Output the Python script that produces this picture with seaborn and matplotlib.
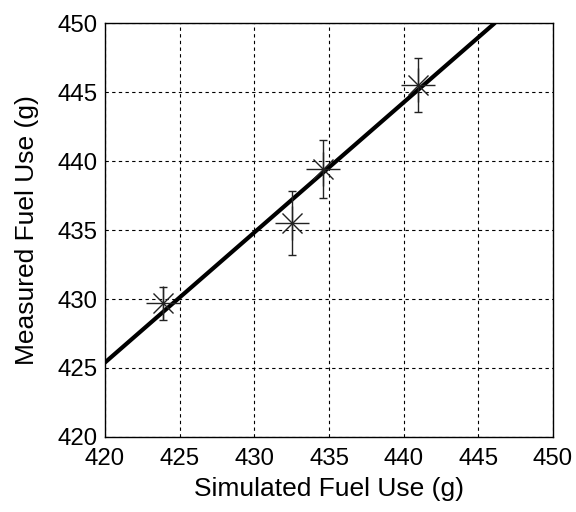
import matplotlib
matplotlib.use("Agg")
import matplotlib.pyplot as plt
import seaborn as sns
import pandas as pd

# Data
simulated = [423.9, 432.55, 434.6, 440.95]
measured = [429.7, 435.5, 439.4, 445.5]
measured_err = [1.2, 2.3, 2.1, 1.95]
fit_x = [420.0, 446.1]
fit_y = [425.4, 450.0]
ticks = [420, 425, 430, 435, 440, 445, 450]

sns.set_style("white")
plt.rcParams['font.family'] = ['Liberation Sans', 'DejaVu Sans']
plt.rcParams['text.color'] = 'black'
plt.rcParams['axes.labelcolor'] = 'black'
plt.rcParams['xtick.color'] = 'black'
plt.rcParams['ytick.color'] = 'black'

fig = plt.figure(figsize=(5.76, 5.12), dpi=100)
ax = fig.add_axes([0.1823, 0.1465, 0.7778, 0.8085])

pts = pd.DataFrame({"sim": simulated, "meas": measured})
fit = pd.DataFrame({"x": fit_x, "y": fit_y})

ax.grid(True, color="black", linestyle=(0, (3, 3)), linewidth=0.8)
ax.set_axisbelow(True)

sns.lineplot(data=fit, x="x", y="y", ax=ax, color="black", linewidth=3.0, zorder=3)
ax.errorbar(simulated, measured, yerr=measured_err, fmt="none", ecolor="#222222",
            elinewidth=1.0, capsize=3.2, capthick=1.0, zorder=4)
sns.scatterplot(data=pts, x="sim", y="meas", ax=ax, marker="+", s=33**2 * 0.52,
                color="#222222", linewidth=1.0, zorder=5)
sns.scatterplot(data=pts, x="sim", y="meas", ax=ax, marker="x", s=20**2 * 0.52,
                color="#222222", linewidth=1.0, zorder=5)

ax.set_xlim(420, 450)
ax.set_ylim(420, 450)
ax.set_xticks(ticks)
ax.set_yticks(ticks)
ax.tick_params(length=0, labelsize=17.3, colors="black")
ax.tick_params(axis="x", pad=8)
ax.tick_params(axis="y", pad=5.5)
ax.set_xlabel("Simulated Fuel Use (g)", fontsize=19, labelpad=5, color="black")
ax.set_ylabel("Measured Fuel Use (g)", fontsize=19, labelpad=13, color="black")
for s in ax.spines.values():
    s.set_color("black")
    s.set_linewidth(1.0)
    s.set_visible(True)

fig.savefig("out.png", dpi=100)
